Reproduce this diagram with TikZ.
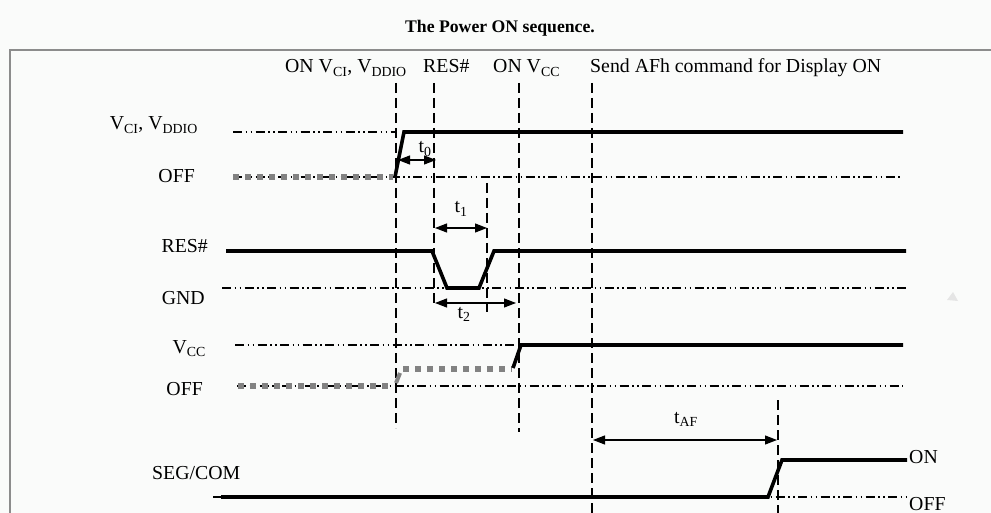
\documentclass[tikz,border=0pt]{standalone}
\usepackage{fontspec}
\setmainfont{Liberation Serif}
\usetikzlibrary{arrows.meta}
\definecolor{bgc}{RGB}{250,251,250}
\definecolor{sgray}{RGB}{130,130,130}
\definecolor{framec}{RGB}{140,140,140}
\begin{document}
\begin{tikzpicture}[x=1pt,y=-1pt,
  lbl/.style={font=\fontsize{19.8}{22}\selectfont, inner sep=0pt},
  ttl/.style={font=\fontsize{17.7}{20}\selectfont\bfseries, inner sep=0pt},
  sig/.style={line width=3.6pt},
  refl/.style={line width=1.5pt, dash pattern=on 9pt off 3.5pt on 1.5pt off 3.5pt on 1.5pt off 3.5pt},
  gdot/.style={sgray, line width=6pt, dash pattern=on 6pt off 6pt},
  vdash/.style={line width=1.8pt, dash pattern=on 10pt off 5pt},
  dim/.style={line width=1.1pt, {Triangle[length=12pt,width=9pt]}-{Triangle[length=12pt,width=9pt]}},
]
\useasboundingbox (0,0) rectangle (991,513);
\fill[bgc] (0,0) rectangle (991,513);
% frame
\draw[framec, line width=1.2pt] (10,513) -- (10,50) -- (991,50);
% title
\node[ttl, anchor=base] (title) at (500,33) {The Power ON sequence.};
% top labels
\node[lbl, anchor=base west] (tonvci) at (285,73) {ON V\textsubscript{CI}, V\textsubscript{DDIO}};
\node[lbl, anchor=base west] (tres) at (423,73) {RES\#};
\node[lbl, anchor=base west] (tonvcc) at (493,73) {ON V\textsubscript{CC}};
\node[lbl, anchor=base west] (tsend) at (590,73) {Send AFh command for Display ON};
% left labels
\node[lbl, anchor=base east] (lvci) at (198,130) {V\textsubscript{CI}, V\textsubscript{DDIO}};
\node[lbl, anchor=base east] (loff1) at (195,183) {OFF};
\node[lbl, anchor=base east] (lres) at (208,253) {RES\#};
\node[lbl, anchor=base east] (lgnd) at (205,305) {GND};
\node[lbl, anchor=base east] (lvcc) at (206,353) {V\textsubscript{CC}};
\node[lbl, anchor=base east] (loff2) at (203,395) {OFF};
\node[lbl, anchor=base west] (lseg) at (152,479) {SEG/COM};
\node[lbl, anchor=base west] (lon) at (909,463) {ON};
\node[lbl, anchor=base west] (loff3) at (909,510) {OFF};
% vertical marker lines
\coordinate (v1t) at (396,83);  \coordinate (v1b) at (396,428);
\coordinate (v2t) at (434,83);  \coordinate (v2b) at (434,307);
\coordinate (v3t) at (487,183); \coordinate (v3b) at (487,312);
\coordinate (v4t) at (519,83);  \coordinate (v4b) at (519,432);
\coordinate (v5t) at (592,83);  \coordinate (v5b) at (592,513);
\coordinate (v6t) at (778,400); \coordinate (v6b) at (778,513);
\draw[vdash] (v1t) -- (v1b);
\draw[vdash] (v2t) -- (v2b);
\draw[vdash] (v3t) -- (v3b);
\draw[vdash] (v4t) -- (v4b);
\draw[vdash] (v5t) -- (v5b);
\draw[vdash] (v6t) -- (v6b);
% reference levels
\draw[refl] (233,132) -- (396,132);
\draw[refl] (233,177) -- (903,177);
\draw[refl] (222,288) -- (906,288);
\draw[refl] (235,345) -- (516,345);
\draw[refl] (237,386) -- (903,386);
\draw[refl] (213,497) -- (907,497);
% gray (undefined) states
\draw[gdot] (233,177) -- (393,177);
\draw[gdot] (238,386) -- (393,386);
\draw[sgray, line width=4pt] (396,383) -- (400,373);
\draw[gdot] (403,369) -- (512,369);
% signals
\draw[sig] (395,177) -- (404,132) -- (903,132);
\draw[sig] (226,251) -- (432,251) -- (447,288) -- (479,288) -- (494,251) -- (906,251);
\draw[sig] (513,368) -- (521,345) -- (903,345);
\draw[sig] (221,497) -- (768,497) -- (782,460) -- (907,460);
% timing arrows
\coordinate (a0l) at (398,160); \coordinate (a0r) at (436,160);
\coordinate (a1l) at (435,228); \coordinate (a1r) at (487,228);
\coordinate (a2l) at (435,303); \coordinate (a2r) at (516,303);
\coordinate (a3l) at (593,440); \coordinate (a3r) at (777,440);
\draw[dim] (a0l) -- (a0r);
\draw[dim] (a1l) -- (a1r);
\draw[dim] (a2l) -- (a2r);
\draw[dim] (a3l) -- (a3r);
\node[lbl, anchor=base] (t0) at (425,153) {t\textsubscript{0}};
\node[lbl, anchor=base] (t1) at (461,213) {t\textsubscript{1}};
\node[lbl, anchor=base] (t2) at (464,318) {t\textsubscript{2}};
\node[lbl, anchor=base] (taf) at (686,423) {t\textsubscript{AF}};
% faint artefact
\fill[gray!20] (947,300) -- (953,292) -- (958,301) -- cycle;
\end{tikzpicture}
\end{document}
